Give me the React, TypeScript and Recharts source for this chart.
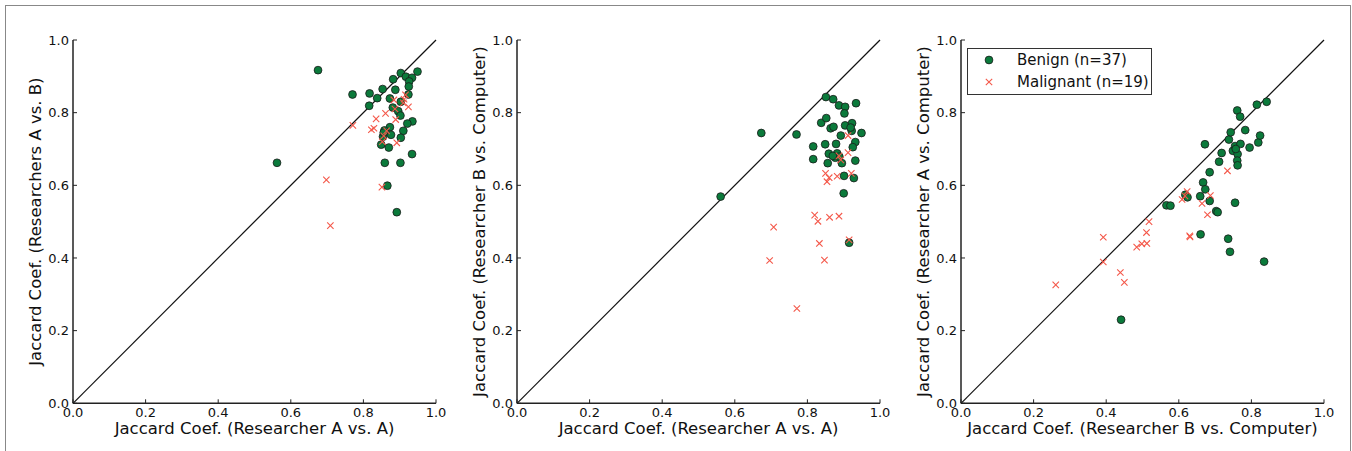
import React from 'react';
import { ScatterChart, Scatter, XAxis, YAxis, ReferenceLine, Legend, Label } from 'recharts';

const TICKS = [0, 0.2, 0.4, 0.6, 0.8, 1.0];
const FONT = '"DejaVu Sans", "Bitstream Vera Sans", sans-serif';
const GREEN = '#0b7a3b';
const RED = '#f4584a';

const BENIGN_LABEL = 'Benign (n=37)';
const MALIGNANT_LABEL = 'Malignant (n=19)';

const labelsP1 = { x: 'Jaccard Coef. (Researcher A vs. A)', y: 'Jaccard Coef. (Researchers A vs. B)' };
const labelsP2 = { x: 'Jaccard Coef. (Researcher A vs. A)', y: 'Jaccard Coef. (Researcher B vs. Computer)' };
const labelsP3 = { x: 'Jaccard Coef. (Researcher B vs. Computer)', y: 'Jaccard Coef. (Researcher A vs. Computer)' };

const benignP1: [number, number][] = [
  [0.562, 0.662], [0.675, 0.917], [0.770, 0.850], [0.817, 0.853], [0.816, 0.819], [0.838, 0.840],
  [0.853, 0.865], [0.882, 0.892], [0.903, 0.909], [0.917, 0.899], [0.934, 0.896], [0.926, 0.886],
  [0.949, 0.913], [0.925, 0.872], [0.888, 0.863], [0.873, 0.839], [0.924, 0.850], [0.903, 0.830],
  [0.881, 0.814], [0.896, 0.804], [0.902, 0.792], [0.935, 0.776], [0.921, 0.770], [0.910, 0.750],
  [0.873, 0.760], [0.858, 0.751], [0.876, 0.739], [0.854, 0.734], [0.903, 0.731], [0.849, 0.712],
  [0.870, 0.704], [0.934, 0.686], [0.859, 0.662], [0.902, 0.662], [0.866, 0.599], [0.892, 0.526],
  [0.856, 0.745],
];
const malignantP1: [number, number][] = [
  [0.771, 0.765], [0.698, 0.615], [0.709, 0.489], [0.851, 0.595], [0.822, 0.753], [0.829, 0.757],
  [0.835, 0.783], [0.861, 0.798], [0.852, 0.720], [0.856, 0.736], [0.892, 0.717], [0.889, 0.781],
  [0.887, 0.810], [0.884, 0.835], [0.912, 0.837], [0.916, 0.849], [0.924, 0.816], [0.910, 0.827],
  [0.864, 0.750],
];

const benignP2: [number, number][] = [
  [0.561, 0.569], [0.673, 0.744], [0.770, 0.740], [0.816, 0.707], [0.816, 0.672], [0.838, 0.772],
  [0.852, 0.785], [0.851, 0.843], [0.871, 0.837], [0.887, 0.820], [0.904, 0.816], [0.902, 0.798],
  [0.934, 0.826], [0.864, 0.757], [0.872, 0.761], [0.904, 0.765], [0.923, 0.771], [0.922, 0.750],
  [0.949, 0.744], [0.892, 0.737], [0.849, 0.713], [0.879, 0.714], [0.932, 0.719], [0.925, 0.705],
  [0.859, 0.687], [0.882, 0.688], [0.856, 0.661], [0.877, 0.676], [0.895, 0.661], [0.932, 0.668],
  [0.901, 0.626], [0.928, 0.620], [0.900, 0.578], [0.915, 0.442], [0.919, 0.759], [0.888, 0.679],
  [0.870, 0.681],
];
const malignantP2: [number, number][] = [
  [0.707, 0.485], [0.696, 0.393], [0.771, 0.261], [0.820, 0.518], [0.829, 0.501], [0.833, 0.440],
  [0.847, 0.394], [0.861, 0.512], [0.887, 0.515], [0.915, 0.450], [0.850, 0.633], [0.854, 0.610],
  [0.860, 0.621], [0.882, 0.625], [0.921, 0.633], [0.887, 0.681], [0.892, 0.670], [0.912, 0.690],
  [0.912, 0.737],
];

const benignP3: [number, number][] = [
  [0.441, 0.230], [0.566, 0.545], [0.577, 0.544], [0.618, 0.574], [0.624, 0.567], [0.660, 0.465],
  [0.659, 0.570], [0.667, 0.608], [0.673, 0.589], [0.685, 0.557], [0.685, 0.636], [0.672, 0.713],
  [0.703, 0.529], [0.707, 0.526], [0.711, 0.665], [0.718, 0.689], [0.736, 0.453], [0.741, 0.417],
  [0.755, 0.552], [0.738, 0.726], [0.743, 0.746], [0.749, 0.695], [0.755, 0.708], [0.761, 0.806],
  [0.769, 0.789], [0.762, 0.686], [0.761, 0.668], [0.762, 0.655], [0.770, 0.714], [0.783, 0.752],
  [0.795, 0.704], [0.815, 0.822], [0.819, 0.718], [0.824, 0.737], [0.842, 0.830], [0.835, 0.390],
  [0.757, 0.700],
];
const malignantP3: [number, number][] = [
  [0.261, 0.326], [0.392, 0.457], [0.392, 0.389], [0.439, 0.360], [0.450, 0.333], [0.484, 0.430],
  [0.498, 0.439], [0.512, 0.440], [0.511, 0.470], [0.518, 0.500], [0.609, 0.561], [0.617, 0.571],
  [0.623, 0.583], [0.630, 0.461], [0.631, 0.458], [0.664, 0.550], [0.679, 0.519], [0.687, 0.572],
  [0.734, 0.640],
];

const toPts = (arr: [number, number][]) => arr.map(([x, y]) => ({ x, y }));
const fmt = (v: number) => v.toFixed(1);
const noTick = () => <g />;

const AXIS_LINE = { stroke: '#222', strokeWidth: 1.5 };
const TICK_LINE = { stroke: '#222', strokeWidth: 1 };

const DotShape = (props: any) => {
  const { cx, cy } = props;
  if (cx == null || cy == null) return <g />;
  return <circle cx={cx} cy={cy} r={3.9} fill={GREEN} stroke="#1a1a1a" strokeWidth={0.8} />;
};
const CrossShape = (props: any) => {
  const { cx, cy } = props;
  if (cx == null || cy == null) return <g />;
  const s = 3.2;
  return (
    <path
      d={`M${cx - s},${cy - s}L${cx + s},${cy + s}M${cx - s},${cy + s}L${cx + s},${cy - s}`}
      stroke={RED}
      strokeWidth={1.1}
      fill="none"
    />
  );
};

const LegendBox = (props: any) => {
  const payload = props.payload || [];
  return (
    <div
      style={{
        width: 185,
        height: 47,
        border: '1.3px solid #333',
        boxSizing: 'border-box',
        background: '#fff',
        position: 'relative',
        fontFamily: FONT,
        fontSize: 15,
        color: '#111',
      }}
    >
      {payload.map((p: any, i: number) => (
        <div key={i} style={{ position: 'absolute', left: 0, top: 1.3 + i * 21.7, height: 20, width: '100%' }}>
          <svg width={12} height={12} style={{ position: 'absolute', left: 15, top: 4 }}>
            {p.type === 'circle' ? (
              <circle cx={6} cy={6} r={3.9} fill={GREEN} stroke="#1a1a1a" strokeWidth={0.8} />
            ) : (
              <path d="M2.8,2.8L9.2,9.2M2.8,9.2L9.2,2.8" stroke={RED} strokeWidth={1.1} />
            )}
          </svg>
          <span style={{ position: 'absolute', left: 49, top: 0, lineHeight: '20px', whiteSpace: 'nowrap' }}>
            {p.value}
          </span>
        </div>
      ))}
    </div>
  );
};

type PanelProps = {
  plotLeft: number;
  benign: [number, number][];
  malignant: [number, number][];
  labels: { x: string; y: string };
  showLegend?: boolean;
};

const Panel = ({ plotLeft, benign, malignant, labels, showLegend }: PanelProps) => {
  const tickStyle = { fontSize: 13, fill: '#111', fontFamily: FONT };
  return (
    <div style={{ position: 'absolute', left: plotLeft - 82, top: 0 }}>
      <ScatterChart width={460} height={460} margin={{ top: 40, right: 15, bottom: 7.3, left: 7 }}>
        <XAxis
          type="number"
          dataKey="x"
          domain={[0, 1]}
          ticks={TICKS}
          tickFormatter={fmt}
          height={49.4}
          tickSize={-4}
          tickMargin={8}
          axisLine={AXIS_LINE}
          tickLine={TICK_LINE}
          tick={tickStyle}
          allowDataOverflow
        >
          <Label value={labels.x} position="center" fontSize={16.5} fill="#111" fontFamily={FONT} />
        </XAxis>
        <YAxis
          type="number"
          dataKey="y"
          domain={[0, 1]}
          ticks={TICKS}
          tickFormatter={fmt}
          width={75}
          tickSize={-4}
          tickMargin={8}
          axisLine={AXIS_LINE}
          tickLine={TICK_LINE}
          tick={tickStyle}
          allowDataOverflow
        >
          <Label value={labels.y} position="center" angle={-90} fontSize={16.5} fill="#111" fontFamily={FONT} />
        </YAxis>
        <XAxis
          xAxisId="top"
          orientation="top"
          type="number"
          domain={[0, 1]}
          ticks={TICKS}
          height={0}
          tickSize={-4}
          tick={noTick}
          axisLine={AXIS_LINE}
          tickLine={TICK_LINE}
          allowDataOverflow
        />
        <YAxis
          yAxisId="right"
          orientation="right"
          type="number"
          domain={[0, 1]}
          ticks={TICKS}
          width={0}
          tickSize={-4}
          tick={noTick}
          axisLine={AXIS_LINE}
          tickLine={TICK_LINE}
          allowDataOverflow
        />
        <ReferenceLine
          segment={[{ x: 0, y: 0 }, { x: 1, y: 1 }]}
          stroke="#111"
          strokeWidth={1.2}
          ifOverflow="visible"
        />
        <Scatter
          name={BENIGN_LABEL}
          data={toPts(benign)}
          fill={GREEN}
          shape={DotShape}
          legendType="circle"
          isAnimationActive={false}
        />
        <Scatter
          name={MALIGNANT_LABEL}
          data={toPts(malignant)}
          fill={RED}
          shape={CrossShape}
          legendType="cross"
          isAnimationActive={false}
        />
        {showLegend && (
          <Legend
            layout="horizontal"
            verticalAlign="middle"
            align="center"
            content={LegendBox}
            wrapperStyle={{ left: 88, top: 48, width: 185, height: 47 }}
          />
        )}
      </ScatterChart>
    </div>
  );
};

export default function App() {
  return (
    <div
      style={{
        position: 'absolute',
        left: 0,
        top: 0,
        width: 1352,
        height: 451,
        overflow: 'hidden',
        background: '#fff',
        fontFamily: FONT,
      }}
    >
      <div
        style={{
          position: 'absolute',
          left: 5,
          top: 5,
          width: 1346,
          height: 470,
          border: '1.5px solid #888',
          boxSizing: 'border-box',
        }}
      />
      <Panel plotLeft={72.7} benign={benignP1} malignant={malignantP1} labels={labelsP1} />
      <Panel plotLeft={516.7} benign={benignP2} malignant={malignantP2} labels={labelsP2} />
      <Panel plotLeft={961} benign={benignP3} malignant={malignantP3} labels={labelsP3} showLegend />
    </div>
  );
}
